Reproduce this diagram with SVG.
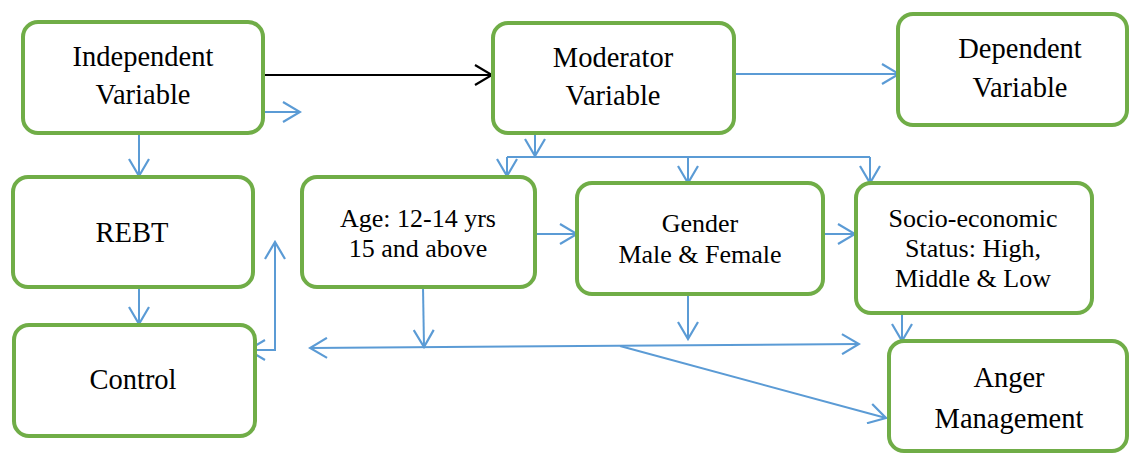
<svg xmlns="http://www.w3.org/2000/svg" width="1129" height="457" viewBox="0 0 1129 457">
<style>
.box{fill:#fff;stroke:#70AD47;stroke-width:4}
.t{font-family:"Liberation Serif","Times New Roman",serif;font-size:28.5px;fill:#000;text-anchor:middle}
.s{font-family:"Liberation Serif","Times New Roman",serif;font-size:26px;fill:#000;text-anchor:middle}
.c{fill:none;stroke:#5B9BD5;stroke-width:2}
.k{fill:none;stroke:#000;stroke-width:2}
</style>
<defs>
<marker id="ab" viewBox="0 0 20 22" refX="18" refY="11" markerWidth="20" markerHeight="22" markerUnits="userSpaceOnUse" orient="auto-start-reverse">
<path d="M1,1 L18,11 L1,21" fill="none" stroke="#5B9BD5" stroke-width="2.2"/>
</marker>
<marker id="ak" viewBox="0 0 20 22" refX="18" refY="11" markerWidth="20" markerHeight="22" markerUnits="userSpaceOnUse" orient="auto">
<path d="M1,1 L18,11 L1,21" fill="none" stroke="#000" stroke-width="2.2"/>
</marker>
</defs>
<rect width="1129" height="457" fill="#fff"/>
<g id="connectors">
<path class="k" d="M263,75 L492,75" marker-end="url(#ak)"/>
<path class="c" d="M263,112 L300,112" marker-end="url(#ab)"/>
<path class="c" d="M734,74 L899,74" marker-end="url(#ab)"/>
<path class="c" d="M139,133 L139,176" marker-end="url(#ab)"/>
<path class="c" d="M139,287 L139,324" marker-end="url(#ab)"/>
<path class="c" d="M535,133 L535,156" marker-end="url(#ab)"/>
<path class="c" d="M507,157 L870,157"/>
<path class="c" d="M507,157 L507,176" marker-end="url(#ab)"/>
<path class="c" d="M688,157 L688,183" marker-end="url(#ab)"/>
<path class="c" d="M870,157 L870,183" marker-end="url(#ab)"/>
<path class="c" d="M535,234 L577,234" marker-end="url(#ab)"/>
<path class="c" d="M823,234 L855,234" marker-end="url(#ab)"/>
<path class="c" d="M902,313 L902,341" marker-end="url(#ab)"/>
<path class="c" d="M423,287 L424,347" marker-end="url(#ab)"/>
<path class="c" d="M688,294 L688,339" marker-end="url(#ab)"/>
<path class="c" d="M310,348 L859,344" marker-start="url(#ab)" marker-end="url(#ab)"/>
<path class="c" d="M620,346 L886,418" marker-end="url(#ab)"/>
<path class="c" d="M248,350 L275,350 L275,242" marker-start="url(#ab)" marker-end="url(#ab)"/>
</g>
<g id="independent">
<rect class="box" x="23" y="22" width="240" height="111" rx="15"/>
<text class="t" x="143" y="66">Independent</text>
<text class="t" x="143" y="104">Variable</text>
</g>
<g id="moderator">
<rect class="box" x="493" y="23" width="241" height="110" rx="15"/>
<text class="t" x="613" y="67">Moderator</text>
<text class="t" x="613" y="105">Variable</text>
</g>
<g id="dependent">
<rect class="box" x="898" y="14" width="229" height="111" rx="15"/>
<text class="t" x="1020" y="58">Dependent</text>
<text class="t" x="1020" y="97">Variable</text>
</g>
<g id="rebt">
<rect class="box" x="13" y="177" width="240" height="110" rx="15"/>
<text class="t" x="132" y="242">REBT</text>
</g>
<g id="control">
<rect class="box" x="14" y="325" width="241" height="111" rx="15"/>
<text class="t" x="133" y="389">Control</text>
</g>
<g id="age">
<rect class="box" x="302" y="177" width="233" height="110" rx="15"/>
<text class="s" x="418" y="227">Age: 12-14 yrs</text>
<text class="s" x="418" y="257">15 and above</text>
</g>
<g id="gender">
<rect class="box" x="577" y="183" width="246" height="111" rx="15"/>
<text class="s" x="700" y="232">Gender</text>
<text class="s" x="700" y="263">Male &amp; Female</text>
</g>
<g id="socio">
<rect class="box" x="856" y="183" width="236" height="130" rx="15"/>
<text class="s" x="973" y="227">Socio-economic</text>
<text class="s" x="973" y="257">Status: High,</text>
<text class="s" x="973" y="287">Middle &amp; Low</text>
</g>
<g id="anger">
<rect class="box" x="889" y="341" width="238" height="110" rx="15"/>
<text class="t" x="1009" y="387">Anger</text>
<text class="t" x="1009" y="428">Management</text>
</g>
</svg>
